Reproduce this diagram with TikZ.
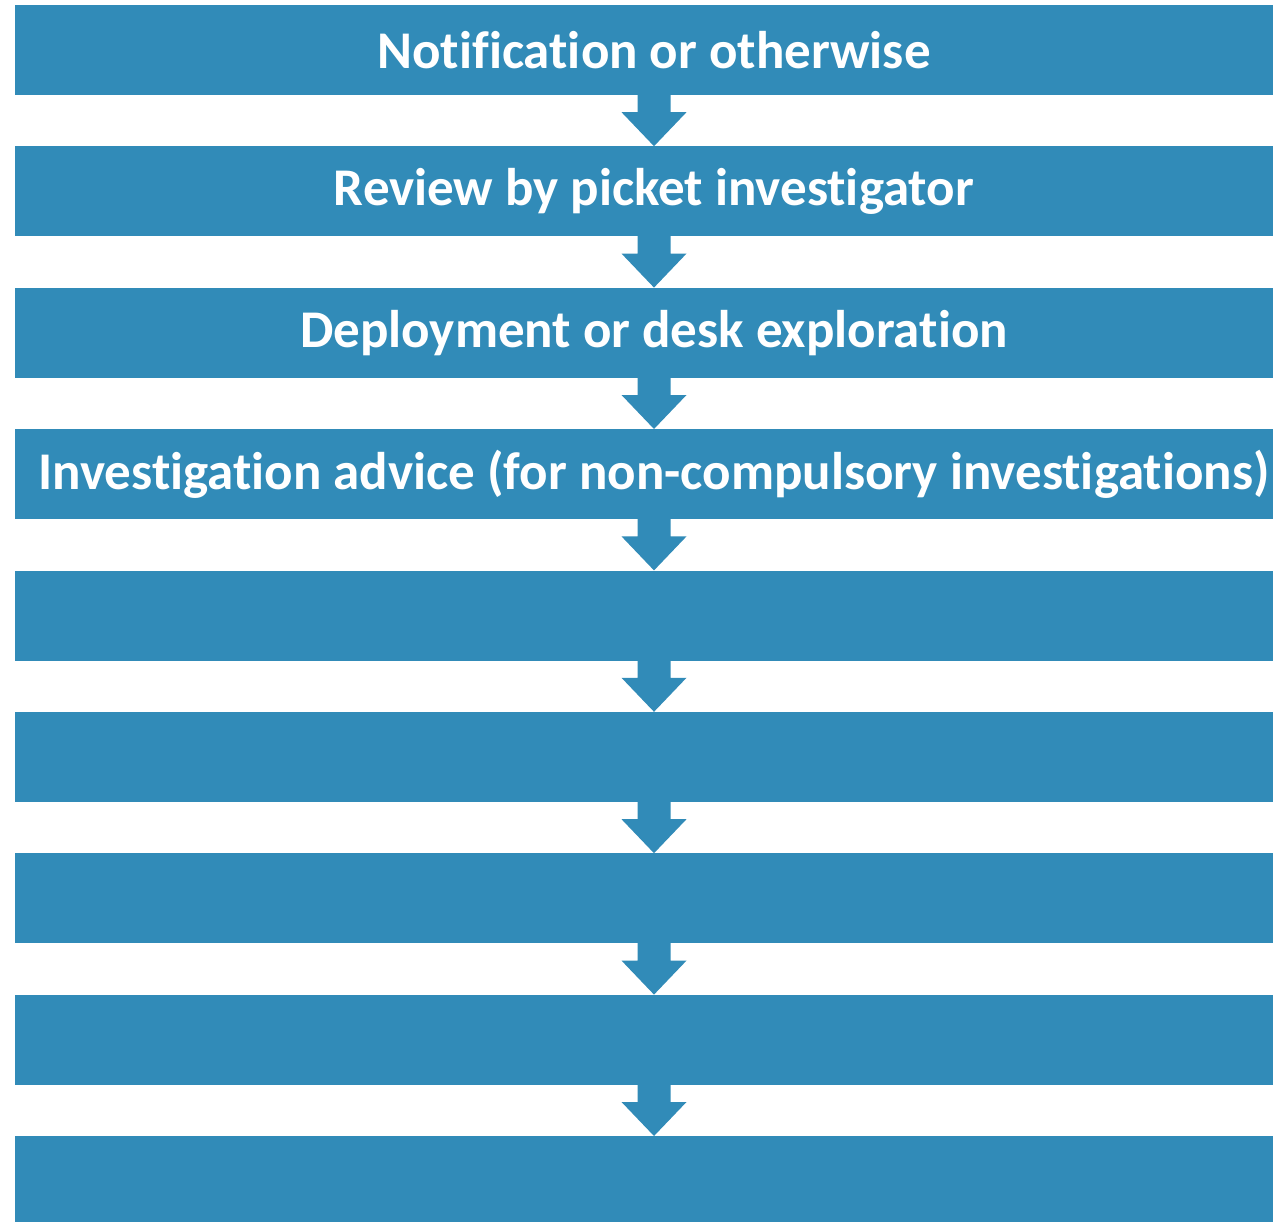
\documentclass[tikz,border=0pt]{standalone}
\usepackage{fontspec}
\setmainfont{Carlito}[Ligatures={NoCommon,NoContextual}]
\usetikzlibrary{calc}
\definecolor{flowblue}{RGB}{49,139,184}
\tikzset{
  stepbox/.style={fill=flowblue, draw=none, minimum width=1278pt, minimum height=90pt, inner sep=0pt, text=white, font=\fontsize{53}{60}\selectfont\bfseries},
  flowarrow/.style={fill=flowblue, draw=none}
}
\begin{document}
\begin{tikzpicture}[x=1pt,y=-1pt]
\clip (0,0) rectangle (1273,1222);
\fill[white] (0,0) rectangle (1273,1222);
\node[stepbox] (b1) at (654,50) {Notification or otherwise};
\node[stepbox] (b2) at (654,191.4) {Review by picket investigator};
\node[stepbox] (b3) at (654,332.8) {Deployment or desk exploration};
\node[stepbox] (b4) at (654,474.2) {Investigation advice (for non-compulsory investigations)};
\node[stepbox] (b5) at (654,615.6) {};
\node[stepbox] (b6) at (654,757.0) {};
\node[stepbox] (b7) at (654,898.4) {};
\node[stepbox] (b8) at (654,1039.8) {};
\node[stepbox] (b9) at (654,1181.2) {};
\foreach \i [evaluate=\i as \j using int(\i+1)] in {1,...,8} {
  \fill[flowarrow] ($(b\i.south)+(-16.5,-1)$) -- ($(b\i.south)+(-16.5,17)$) -- ($(b\i.south)+(-32.5,17)$) -- (b\j.north) -- ($(b\i.south)+(32.5,17)$) -- ($(b\i.south)+(16.5,17)$) -- ($(b\i.south)+(16.5,-1)$) -- cycle;
}
\end{tikzpicture}
\end{document}
